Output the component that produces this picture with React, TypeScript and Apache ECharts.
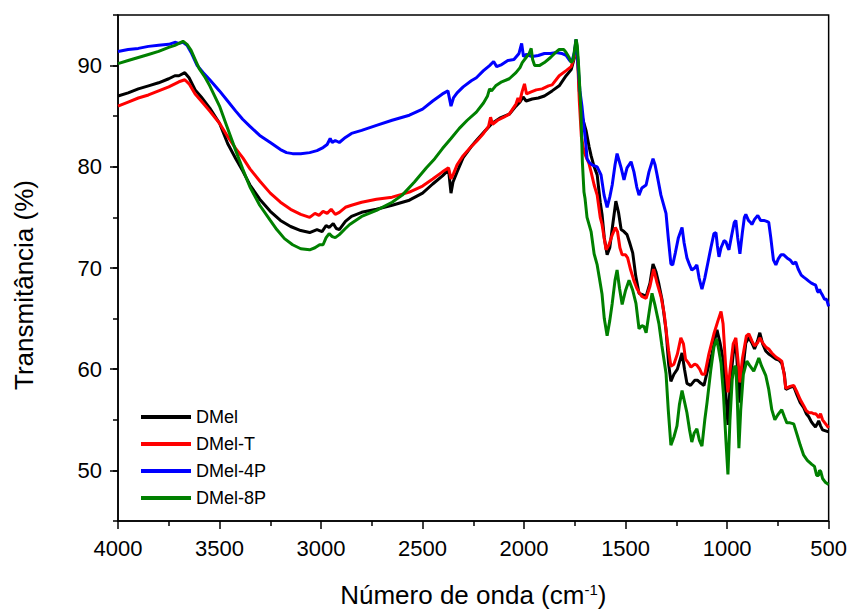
import React, { useEffect, useRef } from "react";
import * as echarts from "echarts";

const seriesNames = ["DMel", "DMel-T", "DMel-4P", "DMel-8P"];
const seriesColors = ["#000000", "#ff0000", "#0000ff", "#008000"];
const xTicks = [500, 1000, 1500, 2000, 2500, 3000, 3500, 4000];
const yTicks = [50, 60, 70, 80, 90];

const dmel: [number, number][] = [
  [4000, 87.0], [3950, 87.3], [3900, 87.7], [3850, 88.0], [3800, 88.3], [3750, 88.7], [3720, 89.0], [3700, 89.0], [3671, 89.3], [3650, 88.8],
  [3620, 87.6], [3590, 86.9], [3548, 85.8], [3500, 84.3], [3460, 82.3], [3420, 80.8], [3386, 79.6], [3350, 78.2], [3302, 76.8], [3250, 75.6],
  [3200, 74.7], [3150, 74.1], [3100, 73.7], [3056, 73.5], [3020, 73.8], [2995, 73.6], [2975, 74.2], [2960, 74.0], [2940, 74.4], [2925, 73.9],
  [2910, 73.8], [2880, 74.6], [2850, 75.1], [2800, 75.5], [2727, 75.8], [2650, 76.2], [2565, 76.7], [2500, 77.4], [2450, 78.3], [2402, 79.1],
  [2372, 79.7], [2360, 77.4], [2350, 78.5], [2330, 79.5], [2300, 80.9], [2260, 82.0], [2235, 82.6], [2190, 83.6], [2157, 84.3], [2120, 84.8],
  [2073, 85.2], [2040, 86.0], [2020, 86.4], [2005, 86.9], [1990, 86.5], [1960, 86.7], [1930, 86.8], [1900, 87.0], [1862, 87.5], [1827, 88.0],
  [1793, 89.0], [1768, 89.6], [1752, 90.8], [1744, 92.5], [1736, 90.8], [1728, 87.5], [1715, 85.0], [1695, 83.6], [1680, 82.0], [1670, 81.1],
  [1655, 80.0], [1640, 79.2], [1625, 76.5], [1616, 75.3], [1605, 73.0], [1591, 71.3], [1578, 72.0], [1562, 74.5], [1548, 76.6], [1535, 75.5],
  [1522, 73.8], [1508, 73.6], [1493, 73.3], [1480, 72.5], [1465, 71.5], [1450, 69.2], [1434, 67.5], [1420, 67.4], [1399, 67.2], [1380, 68.5],
  [1365, 70.4], [1350, 69.6], [1336, 68.4], [1320, 66.8], [1301, 63.9], [1288, 60.5], [1277, 58.8], [1262, 59.5], [1245, 60.0], [1222, 61.6],
  [1210, 60.0], [1198, 58.6], [1180, 58.4], [1160, 58.9], [1145, 58.9], [1129, 58.6], [1114, 58.4], [1095, 60.0], [1075, 61.5], [1050, 63.9],
  [1035, 62.6], [1020, 61.0], [1006, 57.5], [996, 54.5], [985, 58.5], [970, 61.5], [957, 62.6], [947, 59.5], [937, 56.7], [925, 59.5],
  [908, 62.6], [893, 63.1], [878, 62.6], [865, 62.0], [850, 62.8], [839, 63.6], [825, 62.5], [810, 61.8], [795, 61.5], [780, 61.3],
  [760, 61.0], [745, 60.9], [731, 60.6], [718, 59.5], [711, 58.0], [690, 58.2], [672, 58.3], [655, 57.4], [640, 56.7], [623, 56.2],
  [610, 55.6], [598, 55.3], [585, 54.8], [574, 54.5], [565, 54.3], [556, 54.6], [549, 54.9], [540, 54.4], [530, 54.0], [515, 53.9], [500, 53.8],
];

const dmelT: [number, number][] = [
  [4000, 86.0], [3950, 86.4], [3900, 86.8], [3850, 87.1], [3800, 87.5], [3750, 87.9], [3720, 88.2], [3700, 88.4], [3671, 88.6], [3650, 88.2],
  [3620, 87.2], [3590, 86.5], [3548, 85.5], [3500, 84.3], [3460, 83.0], [3420, 81.8], [3386, 80.9], [3350, 79.8], [3302, 78.6], [3250, 77.4],
  [3200, 76.5], [3150, 75.8], [3100, 75.3], [3056, 75.0], [3030, 75.4], [3010, 75.2], [2990, 75.6], [2970, 75.4], [2950, 75.8], [2930, 75.3],
  [2910, 75.5], [2880, 76.0], [2850, 76.2], [2800, 76.5], [2727, 76.8], [2650, 77.0], [2565, 77.5], [2500, 78.1], [2450, 78.8], [2402, 79.5],
  [2372, 79.9], [2360, 78.8], [2348, 79.3], [2330, 80.2], [2300, 81.1], [2260, 82.0], [2235, 82.5], [2200, 83.3], [2175, 84.0], [2165, 84.9],
  [2155, 84.2], [2130, 84.6], [2100, 84.9], [2073, 85.2], [2040, 86.2], [2030, 86.8], [2022, 86.4], [2010, 87.4], [1998, 88.2], [1988, 87.2],
  [1965, 87.4], [1940, 87.6], [1911, 87.7], [1880, 88.0], [1862, 88.1], [1827, 89.0], [1793, 89.5], [1768, 89.9], [1752, 90.9], [1744, 92.5],
  [1736, 90.5], [1728, 86.5], [1718, 83.0], [1705, 81.5], [1695, 81.0], [1680, 80.3], [1670, 79.5], [1655, 78.2], [1640, 77.2], [1625, 75.0],
  [1616, 74.3], [1606, 73.0], [1596, 71.8], [1582, 72.3], [1565, 73.3], [1550, 74.0], [1540, 73.6], [1528, 72.0], [1517, 71.3], [1500, 71.3],
  [1490, 71.0], [1475, 69.8], [1460, 68.8], [1445, 68.0], [1434, 67.6], [1420, 67.2], [1399, 67.0], [1380, 68.2], [1362, 69.9], [1345, 68.5],
  [1326, 67.2], [1310, 65.5], [1301, 63.9], [1288, 61.8], [1277, 60.3], [1262, 60.5], [1245, 61.5], [1228, 63.1], [1215, 62.5], [1205, 61.0],
  [1190, 60.6], [1178, 60.2], [1160, 60.5], [1149, 60.4], [1135, 60.0], [1124, 59.5], [1110, 59.5], [1090, 61.5], [1065, 63.5], [1045, 64.8],
  [1030, 65.7], [1020, 64.5], [1008, 60.5], [996, 57.7], [985, 60.0], [970, 62.5], [957, 63.1], [947, 61.0], [937, 58.7], [925, 61.0],
  [905, 63.3], [893, 63.5], [878, 62.8], [865, 62.3], [850, 62.6], [839, 63.1], [825, 62.6], [810, 62.2], [795, 62.0], [780, 61.6],
  [760, 61.2], [745, 61.0], [731, 60.8], [720, 59.6], [711, 58.1], [690, 58.3], [672, 58.4], [655, 57.7], [640, 57.0], [623, 56.4],
  [610, 55.9], [598, 55.7], [583, 55.7], [574, 55.6], [565, 55.6], [559, 55.5], [549, 55.2], [540, 55.6], [530, 55.0], [515, 54.6], [500, 54.2],
];

const dmel4P: [number, number][] = [
  [4000, 91.4], [3950, 91.6], [3900, 91.7], [3850, 91.9], [3800, 92.0], [3750, 92.1], [3720, 92.3], [3700, 92.2], [3680, 92.3], [3660, 92.0],
  [3640, 91.3], [3610, 90.0], [3580, 89.3], [3548, 88.6], [3500, 87.5], [3460, 86.5], [3420, 85.5], [3386, 84.7], [3350, 84.0], [3302, 83.1],
  [3250, 82.4], [3200, 81.7], [3170, 81.4], [3140, 81.3], [3100, 81.3], [3056, 81.4], [3020, 81.6], [2990, 81.9], [2970, 82.2], [2955, 82.8],
  [2945, 82.4], [2930, 82.6], [2910, 82.4], [2880, 82.9], [2850, 83.3], [2800, 83.6], [2727, 84.1], [2650, 84.6], [2565, 85.1], [2500, 85.7],
  [2450, 86.5], [2402, 87.2], [2375, 87.5], [2360, 86.0], [2348, 86.8], [2330, 87.3], [2300, 87.9], [2260, 88.5], [2235, 88.8], [2200, 89.5],
  [2170, 90.0], [2150, 90.4], [2135, 89.9], [2110, 90.1], [2080, 90.5], [2050, 90.6], [2025, 91.2], [2012, 92.2], [2003, 90.9], [1990, 91.1],
  [1960, 90.9], [1930, 91.0], [1900, 91.2], [1870, 91.2], [1840, 91.3], [1815, 91.2], [1793, 91.0], [1775, 90.5], [1765, 90.4], [1752, 91.3],
  [1744, 92.6], [1736, 90.5], [1725, 87.5], [1715, 86.0], [1705, 84.0], [1695, 82.1], [1690, 80.8], [1678, 80.4], [1665, 80.2], [1640, 80.0],
  [1621, 79.2], [1606, 77.2], [1591, 76.0], [1578, 77.0], [1566, 78.2], [1552, 80.2], [1542, 81.3], [1532, 80.6], [1522, 79.9], [1508, 78.7],
  [1493, 79.9], [1473, 80.5], [1459, 79.5], [1445, 78.0], [1434, 77.2], [1420, 77.9], [1399, 78.2], [1385, 79.5], [1365, 80.8], [1355, 80.2],
  [1345, 79.2], [1326, 77.2], [1301, 75.4], [1290, 73.0], [1277, 70.4], [1268, 70.3], [1255, 71.5], [1240, 73.0], [1222, 74.0], [1212, 72.5],
  [1198, 71.0], [1185, 70.3], [1174, 69.8], [1160, 70.0], [1149, 70.3], [1138, 69.0], [1124, 67.9], [1110, 69.0], [1095, 70.5], [1080, 72.0],
  [1065, 73.4], [1055, 73.5], [1048, 72.2], [1040, 71.1], [1030, 72.0], [1015, 72.7], [1006, 72.6], [996, 72.0], [991, 71.8], [978, 73.2],
  [965, 74.5], [957, 74.7], [948, 73.0], [937, 71.4], [925, 73.5], [915, 75.0], [908, 75.3], [895, 74.7], [885, 74.5], [878, 74.3],
  [865, 74.8], [849, 75.2], [835, 74.7], [819, 74.7], [805, 74.6], [795, 74.5], [785, 73.0], [772, 70.8], [760, 70.3], [748, 70.9],
  [735, 71.3], [721, 71.3], [705, 71.0], [690, 70.8], [675, 70.4], [662, 70.6], [650, 69.9], [635, 69.3], [623, 69.1], [610, 68.9],
  [598, 68.7], [585, 68.5], [575, 68.4], [564, 68.3], [555, 67.7], [549, 67.6], [545, 67.9], [539, 67.6], [530, 67.3], [520, 66.9],
  [510, 66.9], [500, 66.2],
];

const dmel8P: [number, number][] = [
  [4000, 90.2], [3950, 90.5], [3900, 90.8], [3850, 91.1], [3800, 91.4], [3750, 91.8], [3720, 92.0], [3700, 92.2], [3680, 92.4], [3660, 92.1],
  [3640, 91.5], [3620, 90.6], [3600, 89.7], [3570, 88.8], [3548, 88.0], [3500, 86.0], [3464, 84.0], [3420, 81.6], [3386, 79.8], [3350, 78.0],
  [3302, 76.2], [3250, 74.7], [3218, 73.8], [3180, 72.9], [3140, 72.3], [3100, 71.9], [3056, 71.8], [3030, 72.0], [3007, 72.3], [2990, 72.3],
  [2975, 73.0], [2960, 73.4], [2945, 73.1], [2930, 73.0], [2910, 73.3], [2880, 73.9], [2859, 74.3], [2800, 75.1], [2727, 75.7], [2650, 76.5],
  [2600, 77.2], [2540, 78.5], [2481, 79.9], [2440, 80.8], [2402, 81.8], [2360, 82.8], [2319, 83.8], [2280, 84.6], [2235, 85.4], [2200, 86.3],
  [2180, 87.0], [2170, 87.7], [2160, 87.5], [2140, 88.0], [2110, 88.4], [2073, 88.7], [2040, 89.3], [2020, 89.8], [2009, 90.3], [1990, 90.8],
  [1975, 91.2], [1965, 91.7], [1958, 90.6], [1948, 90.0], [1925, 90.0], [1900, 90.3], [1870, 90.8], [1850, 91.2], [1827, 91.6], [1805, 91.6],
  [1793, 91.3], [1778, 90.8], [1768, 90.3], [1758, 90.6], [1750, 91.8], [1744, 92.6], [1738, 92.0], [1730, 89.5], [1720, 85.4], [1713, 80.5],
  [1705, 77.5], [1700, 76.9], [1690, 75.0], [1670, 73.6], [1655, 71.4], [1640, 70.3], [1630, 69.1], [1616, 67.4], [1605, 65.0], [1591, 63.3],
  [1578, 64.8], [1566, 66.5], [1552, 68.8], [1542, 69.8], [1530, 68.0], [1517, 66.4], [1500, 67.8], [1483, 68.8], [1465, 67.8], [1449, 66.5],
  [1434, 64.0], [1420, 64.3], [1409, 64.2], [1399, 63.6], [1385, 65.5], [1370, 67.5], [1355, 66.3], [1336, 64.5], [1321, 62.3], [1301, 59.6],
  [1290, 56.0], [1277, 52.5], [1262, 53.3], [1247, 54.4], [1235, 56.5], [1222, 57.9], [1210, 56.8], [1198, 55.7], [1185, 54.0], [1174, 52.8],
  [1162, 53.7], [1149, 54.1], [1137, 53.0], [1124, 52.4], [1110, 55.0], [1099, 56.7], [1080, 60.0], [1065, 62.2], [1052, 63.0], [1042, 62.0],
  [1030, 60.6], [1018, 57.5], [1006, 53.0], [996, 49.6], [986, 55.0], [975, 59.0], [965, 60.2], [957, 60.3], [950, 57.0], [942, 52.2],
  [933, 56.0], [920, 59.5], [903, 60.8], [890, 60.4], [869, 59.8], [855, 60.5], [844, 61.1], [830, 60.3], [810, 59.4], [795, 58.0],
  [780, 56.0], [765, 55.0], [750, 55.5], [731, 56.0], [718, 55.3], [706, 54.7], [690, 54.7], [672, 54.6], [655, 53.5], [640, 52.5],
  [623, 51.5], [605, 51.0], [583, 50.6], [570, 50.4], [559, 49.5], [550, 49.5], [545, 50.0], [539, 49.9], [530, 49.2], [515, 48.8], [500, 48.6],
];

const seriesData = [dmel, dmelT, dmel4P, dmel8P];

const FONT = "'Liberation Sans', Arial, sans-serif";

export default function App() {
  const ref = useRef<HTMLDivElement>(null);

  useEffect(() => {
    if (!ref.current) return;
    const chart = echarts.init(ref.current, undefined, { renderer: "svg" });
    const option: any = {
      animation: false,
      backgroundColor: "#ffffff",
      grid: {
        left: 118,
        right: 20,
        top: 15,
        bottom: 86,
        show: true,
        borderColor: "#000",
        borderWidth: 1.5,
        backgroundColor: "transparent",
      },
      legend: {
        orient: "vertical",
        left: 136,
        top: 403,
        itemWidth: 50,
        itemHeight: 4,
        itemGap: 9,
        icon: "rect",
        selectedMode: false,
        data: seriesNames,
        textStyle: { fontSize: 18, fontFamily: FONT, color: "#000" },
      },
      xAxis: {
        type: "value",
        inverse: true,
        min: 500,
        max: 4000,
        interval: 500,
        name: "Número de onda (cm{sup|-1})",
        nameLocation: "middle",
        nameGap: 61,
        nameTextStyle: {
          fontSize: 26,
          fontFamily: FONT,
          color: "#000",
          rich: {
            sup: { fontSize: 15, fontFamily: FONT, color: "#000", verticalAlign: "top", lineHeight: 14 },
          },
        },
        axisLine: { show: true, lineStyle: { color: "#000", width: 1.5 } },
        axisTick: { show: true, length: 8, lineStyle: { color: "#000", width: 1.5 } },
        minorTick: { show: true, splitNumber: 2, length: 5, lineStyle: { color: "#000", width: 1.5 } },
        axisLabel: {
          fontSize: 22,
          fontFamily: FONT,
          color: "#000",
          margin: 16,
          formatter: (v: number) => (xTicks.includes(v) ? String(v) : ""),
        },
        splitLine: { show: false },
      },
      yAxis: [
        {
          type: "value",
          min: 45,
          max: 95,
          interval: 5,
          axisLine: { show: true, lineStyle: { color: "#000", width: 1.5 } },
          axisTick: { show: true, length: 8, customValues: yTicks, lineStyle: { color: "#000", width: 1.5 } },
          axisLabel: {
            fontSize: 22,
            fontFamily: FONT,
            color: "#000",
            margin: 16,
            formatter: (v: number) => (yTicks.includes(v) ? String(v) : ""),
          },
          splitLine: { show: false },
        },
        {
          type: "value",
          min: 45,
          max: 95,
          interval: 5,
          position: "left",
          axisLine: { show: false },
          axisTick: { show: true, length: 5, lineStyle: { color: "#000", width: 1.5 } },
          axisLabel: { show: false },
          splitLine: { show: false },
        },
      ],
      graphic: [
        {
          type: "text",
          x: 24,
          y: 285,
          rotation: Math.PI / 2,
          style: {
            text: "Transmitância (%)",
            fontSize: 26,
            fontFamily: FONT,
            fill: "#000",
            textAlign: "center",
            textVerticalAlign: "middle",
          },
        },
      ],
      series: seriesNames.map((name, i) => ({
        name,
        type: "line",
        yAxisIndex: 0,
        data: seriesData[i],
        showSymbol: false,
        symbol: "none",
        smooth: false,
        lineStyle: { color: seriesColors[i], width: 3 },
        itemStyle: { color: seriesColors[i] },
        z: 2 + i,
      })),
    };
    chart.setOption(option);
    return () => chart.dispose();
  }, []);

  return (
    <div
      ref={ref}
      style={{ position: "fixed", left: 0, top: 0, width: 850, height: 613, background: "#fff" }}
    />
  );
}
